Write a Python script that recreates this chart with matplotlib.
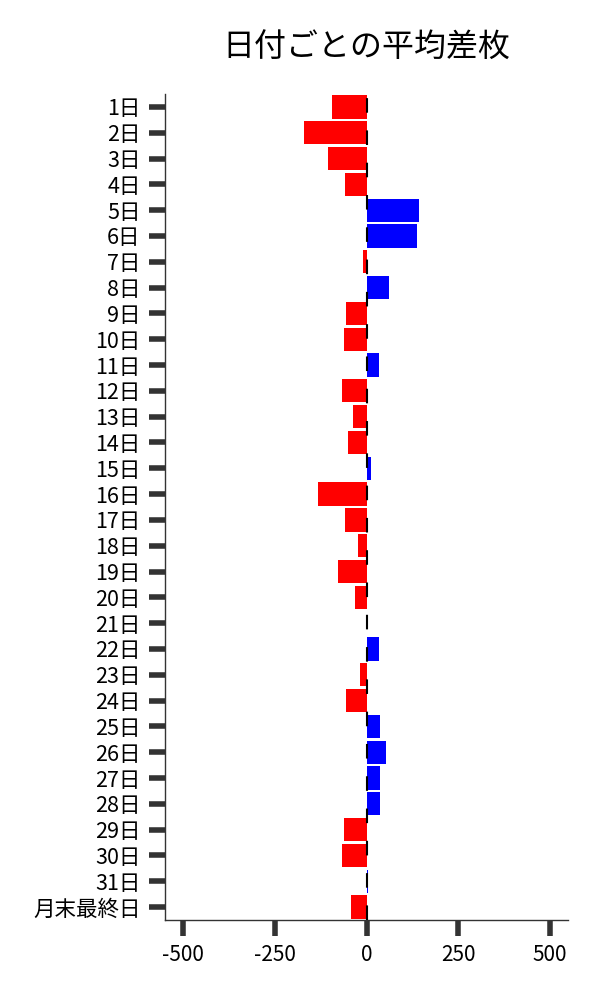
import numpy as np
import matplotlib
matplotlib.use("Agg")
import matplotlib.pyplot as plt

plt.rcParams['font.family'] = ['Noto Sans CJK JP', 'DejaVu Sans']

days = [f"{i}日" for i in range(1, 32)] + ["月末最終日"]
diff = [-95, -171, -106, -60, 143, 138, -11, 62, -57, -62,
        34, -68, -38, -52, 13, -133, -60, -24, -79, -33,
        2, 33, -19, -57, 37, 53, 37, 37, -62, -68,
        4, -43]
xticks = [-500, -250, 0, 250, 500]

fig = plt.figure(figsize=(6, 10), dpi=100)
ax = fig.add_axes([0.275, 0.08, 0.672, 0.826])

pos = np.arange(len(days))
colors = ['blue' if v >= 0 else 'red' for v in diff]
ax.barh(pos, diff, height=0.9, color=colors, zorder=2)
ax.axvline(0, color='black', lw=1.5, linestyle=(0, (7, 8.5)), zorder=3)

ax.set_yticks(pos)
ax.set_yticklabels(days, fontsize=15.5)
ax.set_ylim(len(days) - 0.5, -0.5)
ax.set_xlim(-550, 550)
ax.set_xticks(xticks)
ax.set_xticklabels([str(t) for t in xticks], fontsize=15)

for s in ['top', 'right']:
    ax.spines[s].set_visible(False)
for s in ['left', 'bottom']:
    ax.spines[s].set_color('#333333')
    ax.spines[s].set_linewidth(1)
ax.tick_params(axis='both', length=11.5, width=4, color='#333333')
ax.tick_params(axis='y', pad=6)
ax.tick_params(axis='x', pad=6)

ax.set_title("日付ごとの平均差枚", fontsize=23, pad=27)

fig.savefig("out.png", dpi=100)
